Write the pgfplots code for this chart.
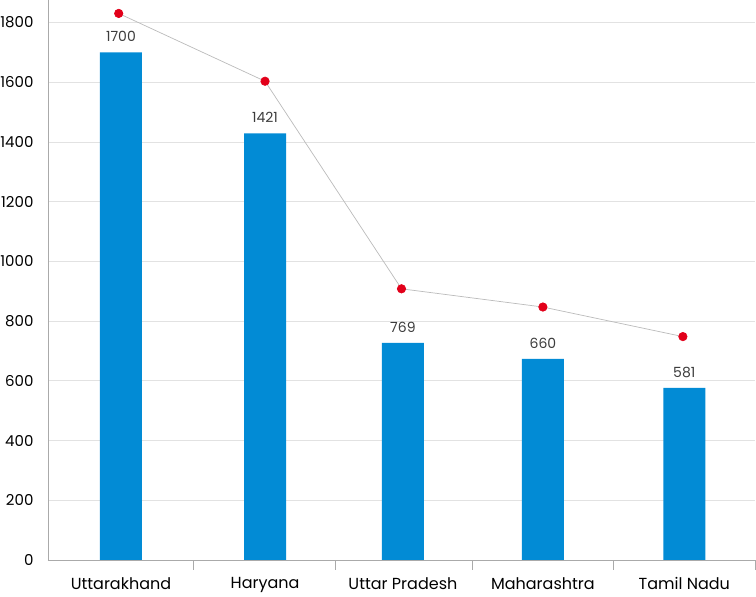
\documentclass[border=0pt]{standalone}
\usepackage{pgfplots}
\pgfplotsset{compat=1.18}
\usepackage{fontspec}
\setmainfont{Poppins}
\definecolor{barblue}{RGB}{2,139,213}
\definecolor{dotred}{RGB}{226,0,26}
\definecolor{gridgray}{RGB}{226,226,226}
\definecolor{axisgray}{RGB}{170,170,170}
\definecolor{labelgray}{RGB}{60,60,60}
\begin{document}
\begin{tikzpicture}
\useasboundingbox (0,0) rectangle (756pt,597pt);
\begin{axis}[
  at={(48pt,37pt)}, anchor=south west,
  scale only axis, width=707pt, height=560pt,
  xmin=-0.5, xmax=4.5, ymin=0, ymax=1875,
  axis x line=bottom, axis y line=left,
  axis line style={-, axisgray, line width=0.8pt},
  xtick={0.53,1.535,2.5,3.5,4.5},
  xticklabels={},
  x tick style={axisgray, line width=0.8pt},
  xtick align=outside,
  major tick length=10pt,
  extra x ticks={0.016,1.035,2.01,3,4},
  extra x tick labels={Uttarakhand,Haryana,Uttar Pradesh,Maharashtra,Tamil Nadu},
  extra x tick style={major tick length=0pt, grid=none,
     xticklabel style={font=\fontsize{16}{19}\selectfont, yshift=-14pt}},
  ytick={0,200,400,600,800,1000,1200,1400,1600,1800},
  y tick style={draw=none},
  ymajorgrids, grid style={gridgray, line width=0.7pt},
  yticklabel style={font=\fontsize{15}{18}\selectfont, text=black, xshift=-6pt},
  /pgf/number format/assume math mode=true,
  /pgf/number format/1000 sep={},
  clip=false,
]
\addplot[ybar, bar width=42pt, fill=barblue, draw=none,
  nodes near coords, point meta=explicit symbolic,
  every node near coord/.append style={font=\fontsize{14}{16}\selectfont, text=labelgray, anchor=south, yshift=7pt}]
  table[meta=lab] {
x y lab
0.016 1700 1700
1.035 1428 1421
2.01 727 769
3 673 660
4 576 581
};
\addplot[color=axisgray!80, line width=0.7pt, mark=*, mark size=4.2pt,
  mark options={fill=dotred, draw=dotred}]
  coordinates {(0.0,1830) (1.035,1603) (2.0,908) (3,847) (3.99,748)};
\end{axis}
\end{tikzpicture}
\end{document}
